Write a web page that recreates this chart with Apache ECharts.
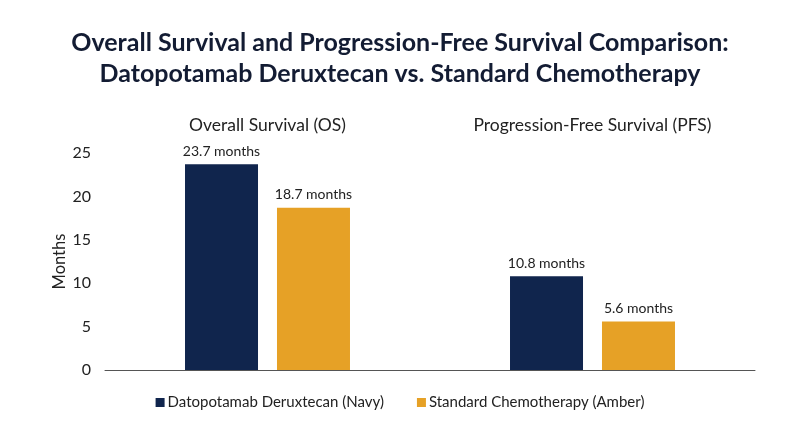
<!DOCTYPE html>
<html>
<head>
<meta charset="utf-8">
<script src="https://cdn.jsdelivr.net/npm/echarts@6/dist/echarts.min.js"></script>
<style>
  html, body { margin: 0; padding: 0; background: #fff; }
  #main { width: 800px; height: 447px; }
</style>
</head>
<body>
<div id="main"></div>
<script>
// chart data
const categories = ["Overall Survival (OS)", "Progression-Free Survival (PFS)"];
const seriesNames = ["Datopotamab Deruxtecan (Navy)", "Standard Chemotherapy (Amber)"];
const datoValues = [23.7, 10.8];
const chemoValues = [18.7, 5.6];
const yTicks = [0, 5, 10, 15, 20, 25];

var chartDom = document.getElementById("main");
var myChart = echarts.init(chartDom);
var option;

const fontFamily = "Lato";
const labelOption = {
  show: true,
  position: "top",
  distance: 6,
  fontFamily: fontFamily,
  fontSize: 14,
  color: "#222",
  formatter: "{c} months",
};

option = {
  color: ["#10254d", "#e6a126"],
  textStyle: { fontFamily: fontFamily },
  title: {
    text: "Overall Survival and Progression-Free Survival Comparison:\nDatopotamab Deruxtecan vs. Standard Chemotherapy",
    left: "center",
    top: 22,
    textStyle: {
      fontFamily: fontFamily,
      fontSize: 25,
      fontWeight: "bold",
      color: "#131c33",
      lineHeight: 31,
    },
  },
  legend: {
    data: seriesNames,
    bottom: 32,
    left: "center",
    icon: "rect",
    itemWidth: 9,
    itemHeight: 9,
    itemGap: 33,
    textStyle: { fontFamily: fontFamily, fontSize: 15, color: "#222", padding: [0, 0, 0, -2] },
  },
  grid: {
    left: 105,
    right: 45,
    top: 153,
    bottom: 77,
  },
  xAxis: [
    {
      type: "category",
      data: categories,
      position: "bottom",
      axisTick: { show: false },
      axisLabel: { show: false },
      axisLine: { lineStyle: { color: "#555", width: 1 } },
    },
    {
      type: "category",
      data: categories,
      position: "top",
      axisTick: { show: false },
      axisLine: { show: false },
      axisLabel: {
        margin: 19,
        fontFamily: fontFamily,
        fontSize: 17.5,
        color: "#222",
      },
    },
  ],
  yAxis: {
    type: "value",
    min: yTicks[0],
    max: yTicks[yTicks.length - 1],
    interval: 5,
    name: "Months",
    nameLocation: "middle",
    nameGap: 37,
    nameMoveOverlap: false,
    nameTextStyle: { fontFamily: fontFamily, fontSize: 16.5, color: "#222" },
    axisLine: { show: false },
    axisTick: { show: false },
    splitLine: { show: false },
    axisLabel: {
      margin: 14,
      fontFamily: fontFamily,
      fontSize: 16,
      color: "#222",
    },
  },
  series: [
    {
      name: seriesNames[0],
      type: "bar",
      xAxisIndex: 0,
      barWidth: 73,
      barGap: "26%",
      label: labelOption,
      data: datoValues,
    },
    {
      name: seriesNames[1],
      type: "bar",
      xAxisIndex: 0,
      barWidth: 73,
      barGap: "26%",
      label: labelOption,
      data: chemoValues,
    },
  ],
};

option && myChart.setOption(option);
</script>
</body>
</html>
